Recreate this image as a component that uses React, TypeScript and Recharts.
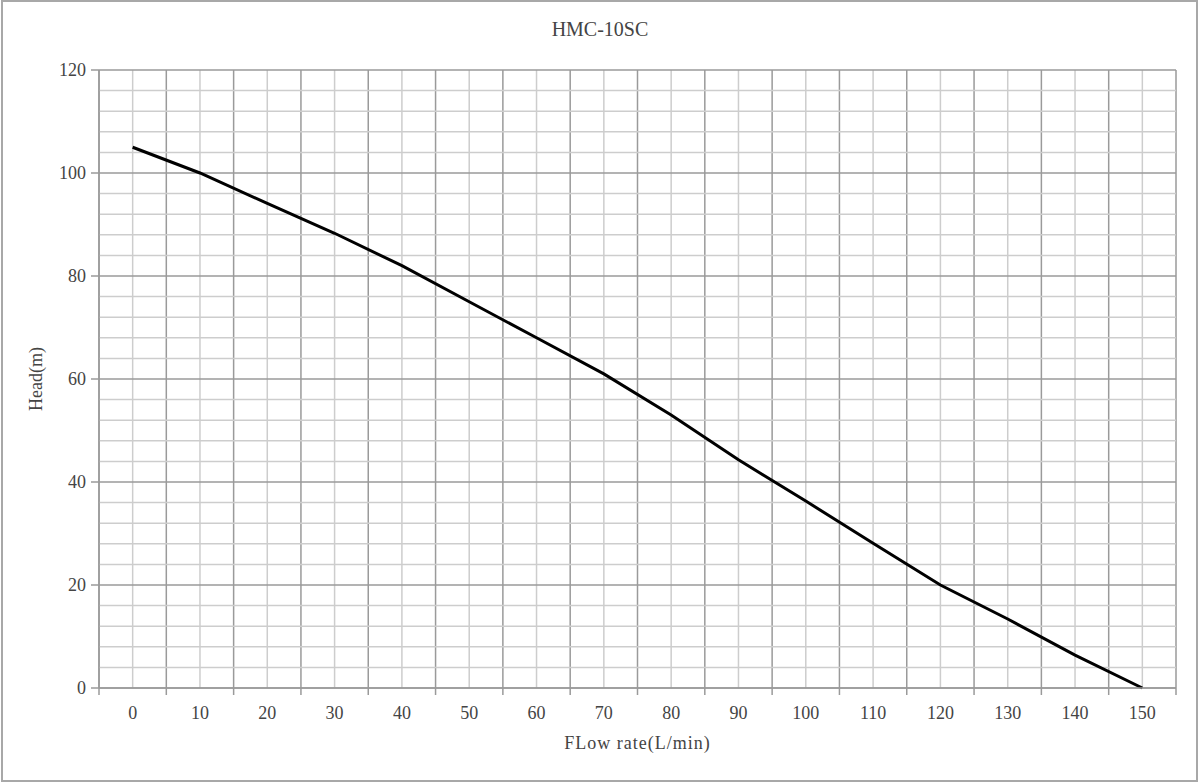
import { LineChart, Line, XAxis, YAxis, ReferenceLine } from 'recharts';

const flowRates = [0, 10, 20, 30, 40, 50, 60, 70, 80, 90, 100, 110, 120, 130, 140, 150];
const headValues = [105, 100, 94.1, 88.3, 82, 75, 68, 61, 53, 44.3, 36.3, 28.1, 20, 13.4, 6.4, 0];

const xTicks = [-5, 0, 5, 10, 15, 20, 25, 30, 35, 40, 45, 50, 55, 60, 65, 70, 75, 80, 85, 90, 95, 100, 105, 110, 115, 120, 125, 130, 135, 140, 145, 150, 155];
const yTicks = [0, 20, 40, 60, 80, 100, 120];
const yMinorLines = [4, 8, 12, 16, 24, 28, 32, 36, 44, 48, 52, 56, 64, 68, 72, 76, 84, 88, 92, 96, 104, 108, 112, 116];

const data = flowRates.map((q, i) => ({ q, head: headValues[i] }));

const FONT = '"Liberation Serif", "DejaVu Serif", serif';
const TEXT = '#444';
const LIGHT = '#cdcdcd';
const DARK = '#9a9a9a';

// labels on multiples of 10, tick marks between them
function FlowTick(props: any) {
  const { x, y, payload } = props;
  const v = payload.value;
  if (v % 10 === 0) {
    return (
      <text x={x} y={y + 25} textAnchor="middle" dominantBaseline="central" fill={TEXT} fontSize={18} fontFamily={FONT}>
        {v}
      </text>
    );
  }
  return <line x1={x} y1={y} x2={x} y2={y + 7} stroke={DARK} strokeWidth={1.5} />;
}

export default function App() {
  return (
    <div style={{ position: 'absolute', left: 0, top: 0, width: 1200, height: 782, background: '#fff' }}>
      <div
        style={{
          position: 'absolute',
          left: 1,
          top: 0,
          width: 1197,
          height: 782,
          border: '2px solid #a8a8a8',
          boxSizing: 'border-box',
        }}
      />
      <div
        style={{
          position: 'absolute',
          left: 0,
          top: 18,
          width: 1200,
          textAlign: 'center',
          fontFamily: FONT,
          fontSize: 20,
          color: TEXT,
        }}
      >
        HMC-10SC
      </div>
      <div style={{ position: 'absolute', left: 0, top: 0 }}>
        <LineChart width={1200} height={782} data={data} margin={{ top: 70, right: 24, left: 0, bottom: 0 }}>
          {xTicks.map((v) => (
            <ReferenceLine key={'x' + v} x={v} stroke={v % 10 === 0 ? LIGHT : DARK} strokeWidth={1.5} />
          ))}
          {yMinorLines.map((v) => (
            <ReferenceLine key={'y' + v} y={v} stroke={LIGHT} strokeWidth={1.5} />
          ))}
          {yTicks.map((v) => (
            <ReferenceLine key={'Y' + v} y={v} stroke={DARK} strokeWidth={1.5} />
          ))}
          <XAxis
            dataKey="q"
            type="number"
            domain={[-5, 155]}
            ticks={xTicks}
            interval={0}
            height={94}
            tickSize={0}
            tickMargin={0}
            tickLine={false}
            tick={<FlowTick />}
            axisLine={{ stroke: DARK, strokeWidth: 1.5 }}
            label={{
              value: 'FLow rate(L/min)',
              position: 'insideTop',
              offset: 48,
              fill: TEXT,
              fontSize: 18,
              fontFamily: FONT,
              letterSpacing: 1,
            }}
          />
          <YAxis
            type="number"
            domain={[0, 120]}
            ticks={yTicks}
            interval={0}
            width={99}
            tickSize={8}
            tickMargin={5}
            tickLine={{ stroke: DARK, strokeWidth: 1.5 }}
            axisLine={{ stroke: DARK, strokeWidth: 1.5 }}
            tick={{ fill: TEXT, fontSize: 18, fontFamily: FONT }}
            label={{
              value: 'Head(m)',
              angle: -90,
              position: 'insideLeft',
              offset: 36,
              fill: TEXT,
              fontSize: 18,
              fontFamily: FONT,
              style: { textAnchor: 'middle' },
            }}
          />
          <Line
            type="linear"
            dataKey="head"
            stroke="#000"
            strokeWidth={3}
            dot={false}
            activeDot={false}
            isAnimationActive={false}
          />
        </LineChart>
      </div>
    </div>
  );
}
